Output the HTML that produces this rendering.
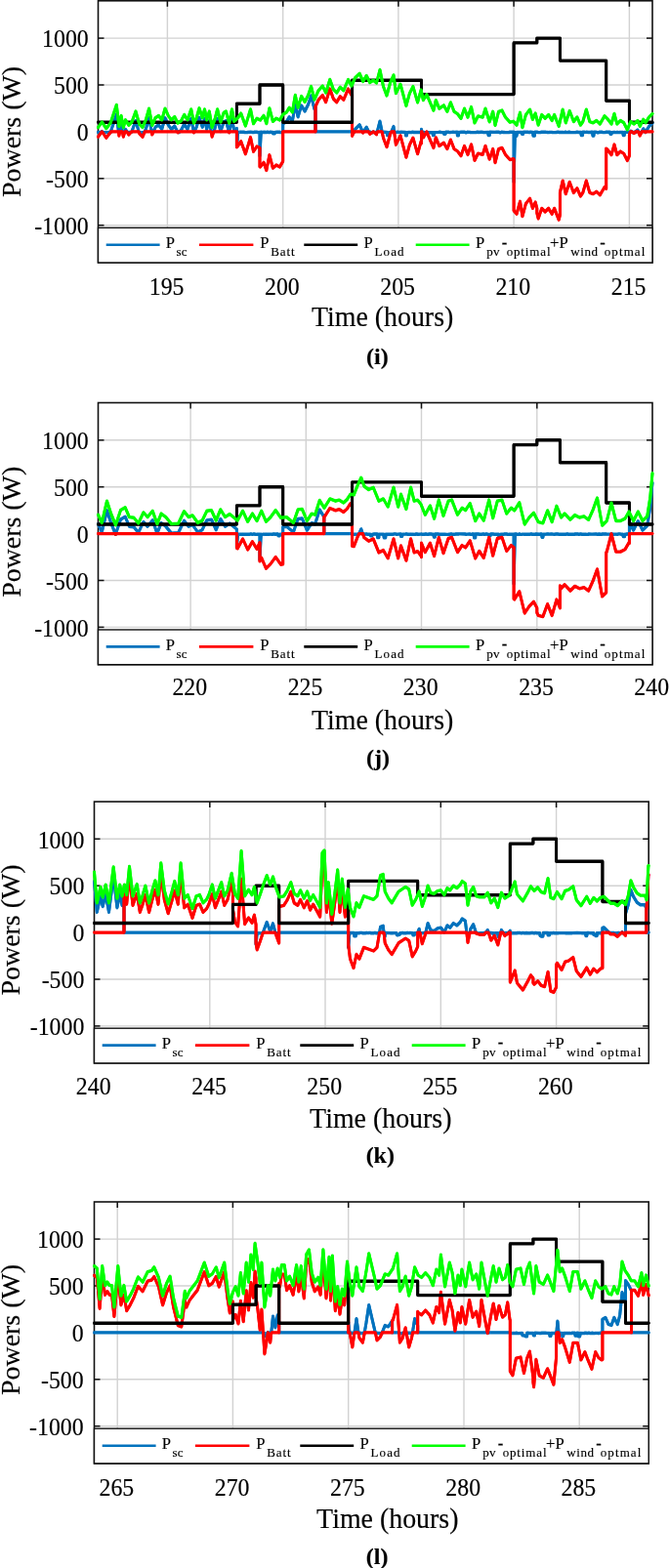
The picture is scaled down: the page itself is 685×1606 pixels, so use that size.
<!DOCTYPE html>
<html><head><meta charset="utf-8"><title>Powers vs Time</title>
<style>
html,body{margin:0;padding:0;background:#fff}
svg{display:block}
text{font-family:"Liberation Serif","Times New Roman",serif;fill:#000;stroke:#000;stroke-width:.15px}
.tk{font-size:23.8px}
.al{font-size:27.9px}
.cp{font-size:24px;font-weight:bold}
.lp{font-size:16.6px}
.ls{font-size:13px}
</style></head><body>
<svg width="685" height="1606" viewBox="0 0 685 1606">
<rect width="685" height="1606" fill="#fff"/>
<g>
<line x1="171.4" y1="0.8" x2="171.4" y2="269.0" stroke="#d2d2d2" stroke-width="1.4"/>
<line x1="289.7" y1="0.8" x2="289.7" y2="269.0" stroke="#d2d2d2" stroke-width="1.4"/>
<line x1="407.9" y1="0.8" x2="407.9" y2="269.0" stroke="#d2d2d2" stroke-width="1.4"/>
<line x1="526.1" y1="0.8" x2="526.1" y2="269.0" stroke="#d2d2d2" stroke-width="1.4"/>
<line x1="644.4" y1="0.8" x2="644.4" y2="269.0" stroke="#d2d2d2" stroke-width="1.4"/>
<line x1="100.5" y1="230.7" x2="668.0" y2="230.7" stroke="#d2d2d2" stroke-width="1.4"/>
<line x1="100.5" y1="182.8" x2="668.0" y2="182.8" stroke="#d2d2d2" stroke-width="1.4"/>
<line x1="100.5" y1="134.9" x2="668.0" y2="134.9" stroke="#d2d2d2" stroke-width="1.4"/>
<line x1="100.5" y1="87.0" x2="668.0" y2="87.0" stroke="#d2d2d2" stroke-width="1.4"/>
<line x1="100.5" y1="39.1" x2="668.0" y2="39.1" stroke="#d2d2d2" stroke-width="1.4"/>
<rect x="100.5" y="0.8" width="567.5" height="268.2" fill="none" stroke="#111" stroke-width="1.6"/>
<line x1="171.4" y1="0.8" x2="171.4" y2="6.8" stroke="#111" stroke-width="1.5"/>
<line x1="289.7" y1="0.8" x2="289.7" y2="6.8" stroke="#111" stroke-width="1.5"/>
<line x1="407.9" y1="0.8" x2="407.9" y2="6.8" stroke="#111" stroke-width="1.5"/>
<line x1="526.1" y1="0.8" x2="526.1" y2="6.8" stroke="#111" stroke-width="1.5"/>
<line x1="644.4" y1="0.8" x2="644.4" y2="6.8" stroke="#111" stroke-width="1.5"/>
<line x1="100.5" y1="230.7" x2="106.5" y2="230.7" stroke="#111" stroke-width="1.5"/>
<line x1="662.0" y1="230.7" x2="668.0" y2="230.7" stroke="#111" stroke-width="1.5"/>
<line x1="100.5" y1="182.8" x2="106.5" y2="182.8" stroke="#111" stroke-width="1.5"/>
<line x1="662.0" y1="182.8" x2="668.0" y2="182.8" stroke="#111" stroke-width="1.5"/>
<line x1="100.5" y1="134.9" x2="106.5" y2="134.9" stroke="#111" stroke-width="1.5"/>
<line x1="662.0" y1="134.9" x2="668.0" y2="134.9" stroke="#111" stroke-width="1.5"/>
<line x1="100.5" y1="87.0" x2="106.5" y2="87.0" stroke="#111" stroke-width="1.5"/>
<line x1="662.0" y1="87.0" x2="668.0" y2="87.0" stroke="#111" stroke-width="1.5"/>
<line x1="100.5" y1="39.1" x2="106.5" y2="39.1" stroke="#111" stroke-width="1.5"/>
<line x1="662.0" y1="39.1" x2="668.0" y2="39.1" stroke="#111" stroke-width="1.5"/>
<clipPath id="cp1"><rect x="98.0" y="0.8" width="572.5" height="268.2"/></clipPath>
<g clip-path="url(#cp1)" fill="none" stroke-width="2.9" stroke-linejoin="round" stroke-linecap="round">
<polyline id="c1blue" stroke="#0072bd" points="100.5,135.5 103.8,135.4 104.4,134.6 104.8,135.4 105.2,135.4 105.7,135.6 110.4,135.6 110.9,135.5 112.3,135.5 113.3,135.6 113.7,133.9 119.3,117.1 121.3,134.1 121.8,135.6 122.3,135.6 122.7,134.8 124.1,128.0 125.1,133.6 125.6,135.4 127.0,135.5 127.5,135.7 128.5,132.4 130.3,135.3 130.8,135.5 131.8,135.5 133.6,135.4 134.1,135.3 134.5,135.3 135.0,134.6 139.0,123.7 142.1,134.8 142.6,135.5 146.8,135.6 147.3,135.3 147.8,135.3 148.3,134.8 149.3,132.4 152.6,120.8 155.4,135.3 155.8,135.4 156.8,135.4 157.3,134.6 159.1,130.2 162.4,128.0 165.7,132.4 169.0,120.8 172.3,128.0 175.5,132.4 178.8,129.1 182.1,135.6 183.3,135.6 183.7,134.6 185.4,133.5 188.7,127.0 192.0,132.4 195.7,121.5 198.4,135.3 198.5,135.5 198.9,135.5 199.3,134.0 201.2,130.2 204.0,120.4 207.3,130.2 209.5,121.5 211.7,132.4 214.3,123.7 216.4,135.6 218.7,135.5 220.4,130.2 222.6,121.5 225.9,134.6 229.2,124.8 231.4,123.7 234.3,134.5 234.7,135.6 234.8,135.6 235.3,132.6 237.5,121.5 239.7,133.8 242.4,131.5 242.4,150.2 243.2,142.3 243.3,138.5 243.8,135.5 244.7,135.5 245.2,135.2 249.9,135.2 250.4,135.6 253.3,135.6 253.7,135.4 256.6,135.3 258.5,135.4 258.9,135.6 259.9,135.6 260.3,135.2 263.2,135.3 263.7,135.6 266.0,135.5 266.0,159.8 267.0,140.1 267.4,135.2 267.9,135.2 268.4,135.5 271.2,135.3 271.7,135.6 272.8,135.6 273.1,135.2 274.5,135.2 275.0,135.6 276.0,135.6 276.4,135.2 277.8,135.2 278.3,135.5 279.4,135.5 279.7,136.9 281.2,136.9 281.6,135.4 282.9,135.4 283.0,135.2 286.4,135.2 286.4,135.6 289.7,135.5 289.7,126.8 293.4,124.5 296.2,119.8 299.3,124.5 302.3,107.0 305.1,119.8 308.6,108.1 312.1,114.0 315.6,107.0 318.6,98.1 321.9,111.6 323.0,109.2 323.0,134.9 360.6,134.9 360.6,135.3 361.1,135.3 361.5,135.6 362.5,135.6 363.0,133.8 363.5,132.5 368.2,127.9 371.5,135.6 371.7,135.4 372.0,135.4 372.4,134.8 375.2,130.2 377.6,135.2 379.5,135.3 380.0,135.7 381.4,135.7 381.9,135.4 382.2,134.9 382.4,135.4 384.7,135.4 385.2,135.5 386.1,135.5 389.0,124.2 391.3,135.6 391.8,135.5 392.8,135.5 393.2,135.3 396.1,135.4 396.5,138.6 398.0,138.6 398.4,135.7 399.5,135.7 399.9,135.4 400.3,135.4 400.8,134.8 403.0,129.6 403.6,134.4 404.1,135.6 406.0,135.5 406.5,135.3 407.9,135.3 408.4,135.4 409.8,135.4 410.0,135.2 415.0,135.4 415.5,138.9 416.4,138.9 416.9,135.6 418.8,135.5 421.6,135.6 422.1,135.2 423.0,135.2 423.5,135.5 430.1,135.5 430.6,135.2 431.5,135.2 431.5,132.5 432.0,134.6 432.5,135.5 434.4,135.5 434.9,135.7 436.3,135.7 436.7,135.4 437.7,135.4 438.2,135.6 440.1,135.7 442.9,135.6 443.4,138.5 444.3,138.5 444.8,135.6 449.5,135.4 449.8,135.2 450.9,135.2 451.4,135.5 454.4,135.6 454.7,137.2 456.1,137.2 456.6,135.2 459.4,135.3 459.9,135.6 461.3,135.6 461.4,135.4 462.8,135.4 463.2,135.3 464.6,135.3 465.0,135.4 468.0,135.3 468.4,138.9 469.4,138.9 469.8,135.5 471.3,135.5 471.7,135.3 476.0,135.3 476.5,135.7 477.9,135.7 478.4,135.3 481.2,135.4 481.7,135.6 487.8,135.6 488.3,135.2 489.5,135.2 489.7,135.5 493.0,135.3 494.4,135.4 494.9,135.6 499.6,135.5 500.1,138.6 501.2,138.6 501.5,135.3 507.7,135.4 508.2,135.2 511.0,135.2 511.5,135.7 512.9,135.7 513.4,135.3 514.3,135.3 514.8,135.5 516.2,135.5 516.7,135.6 521.4,135.6 521.9,135.2 526.1,135.2 526.1,186.6 527.1,145.8 527.5,135.6 528.0,139.2 529.0,139.2 529.4,135.4 534.2,135.5 534.6,137.4 535.6,137.4 536.1,135.3 540.8,135.2 541.3,135.5 542.6,135.5 542.7,135.2 544.1,135.2 544.6,135.5 545.5,135.5 546.0,139.0 547.4,139.0 547.9,135.3 549.3,135.2 550.2,135.2 550.7,135.5 552.1,135.6 553.6,135.6 554.0,135.2 558.3,135.2 558.8,135.4 560.2,135.4 560.6,135.6 561.7,135.6 562.1,135.5 564.0,135.4 565.2,135.4 565.4,135.6 568.2,135.6 570.1,135.5 570.6,135.3 572.0,135.3 572.2,135.5 576.3,135.5 576.7,135.6 578.1,135.6 578.6,135.2 579.6,135.2 580.0,135.6 581.5,135.6 581.9,135.2 583.2,135.2 583.3,135.6 590.0,135.5 590.4,135.2 591.4,135.2 591.9,135.5 594.7,135.4 595.2,138.5 596.6,138.5 596.8,135.2 598.0,135.2 598.5,135.4 599.9,135.4 600.3,135.3 601.3,135.3 601.8,135.5 604.6,135.5 605.1,135.2 606.5,135.2 607.0,139.1 607.9,139.1 608.4,135.3 609.8,135.3 611.2,135.4 611.7,135.7 613.1,135.7 613.6,135.2 616.5,135.3 616.9,135.5 618.8,135.6 619.8,135.6 620.2,135.3 624.5,135.3 625.0,137.3 626.0,137.3 626.4,135.6 627.8,135.6 628.3,135.4 629.2,135.4 629.7,135.6 631.1,135.6 631.6,135.4 632.5,135.4 633.0,135.6 634.4,135.6 634.9,135.4 637.7,135.5 638.2,138.5 639.2,138.5 639.6,135.4 642.5,135.4 645.3,135.5 645.8,134.2 646.7,134.8 647.7,135.7 649.1,135.7 649.3,135.3 650.5,135.3 651.0,135.5 651.4,134.4 652.9,133.0 653.8,135.2 654.3,135.7 655.2,135.7 655.7,135.5 657.1,135.5 657.6,134.1 658.7,131.9 660.4,134.5 660.9,135.6 661.0,135.6 661.4,134.8 664.5,129.5 668.0,126.1" transform="translate(0,-0.25)"/>
<use href="#c1blue" transform="translate(0,0.5)"/>
<polyline id="c1red" stroke="#ff0000" points="100.5,140.1 104.3,134.9 104.8,135.2 108.8,141.2 113.1,135.7 113.3,135.3 113.7,134.9 121.3,134.9 121.9,139.0 122.7,134.9 125.1,134.9 125.6,136.2 126.3,140.1 127.5,136.0 127.9,134.9 129.8,134.9 130.3,135.5 131.8,137.9 134.5,135.1 135.0,134.9 142.1,134.9 142.7,136.8 146.0,140.1 148.3,134.9 154.9,134.9 155.4,135.4 155.8,137.9 156.8,135.7 157.3,134.9 181.4,134.9 181.8,135.2 182.1,135.7 183.3,134.9 183.7,134.9 197.9,134.9 198.4,135.0 198.5,135.7 198.9,135.0 199.3,134.9 215.9,134.9 216.4,135.6 217.1,140.1 218.7,135.3 219.2,134.9 234.3,134.9 234.7,135.7 234.8,135.0 235.3,134.9 242.4,134.9 242.4,150.7 243.2,150.0 246.7,144.8 251.4,157.7 256.5,140.6 259.5,155.3 263.0,150.0 266.0,151.5 266.0,170.7 266.5,171.0 270.0,166.3 272.8,174.5 275.9,158.8 279.4,172.2 282.9,169.1 286.4,171.0 289.7,165.2 289.7,134.9 323.0,134.9 323.0,109.2 326.1,102.3 330.3,97.6 333.6,104.6 337.8,91.1 341.3,101.1 344.8,104.6 348.3,98.8 351.8,102.3 356.5,91.1 360.0,97.6 360.6,96.2 360.6,139.3 362.5,134.9 371.0,134.9 371.7,136.1 372.4,134.9 377.2,134.9 377.6,135.1 378.7,137.2 382.2,134.9 385.5,137.7 386.1,135.3 386.6,134.9 390.9,134.9 391.3,135.5 392.5,141.2 396.0,150.6 399.5,137.7 400.8,134.9 403.6,134.9 405.4,148.2 410.0,138.9 415.9,161.1 419.4,148.3 422.9,141.2 427.6,157.6 431.1,144.8 431.5,146.8 431.5,134.9 432.0,134.9 433.4,140.9 436.9,135.1 443.9,151.4 446.3,140.9 449.8,149.5 454.4,146.3 457.9,152.6 461.4,143.2 465.0,152.6 468.5,154.9 472.0,159.6 475.5,149.5 479.0,158.4 482.5,147.9 486.0,164.3 489.5,157.2 494.2,158.4 497.0,149.5 501.2,163.1 504.7,152.6 507.0,166.6 510.5,152.6 514.0,151.4 517.5,158.4 522.2,163.6 525.7,162.6 526.1,163.1 526.1,215.8 529.0,219.1 532.5,206.3 534.9,221.5 538.4,208.6 542.6,203.3 545.4,213.3 548.2,207.0 549.8,213.4 549.8,218.2 551.2,223.9 554.7,213.4 558.2,216.9 561.7,213.4 565.2,219.3 567.6,213.4 572.2,225.1 573.4,220.1 573.4,197.1 576.2,185.1 579.3,198.6 583.2,186.5 587.4,197.4 590.9,192.8 594.4,200.9 596.8,197.4 600.3,185.1 603.8,197.4 607.3,198.6 610.8,196.3 614.3,199.8 619.0,191.6 620.7,193.3 620.7,152.1 622.5,153.9 626.0,158.6 629.0,148.1 631.8,158.6 635.3,155.1 638.8,157.4 642.3,164.4 644.4,159.7 644.4,137.7 645.3,135.5 645.8,134.9 646.7,134.9 647.2,135.1 649.3,136.5 651.0,134.9 653.3,134.9 653.8,135.4 655.2,138.9 657.1,135.0 657.6,134.9 660.4,134.9 661.0,135.4 661.4,134.9 668.0,134.9" transform="translate(0,-0.25)"/>
<use href="#c1red" transform="translate(0,0.5)"/>
<polyline id="c1load" stroke="#000000" points="100.5,125.3 242.4,125.3 242.4,106.2 266.0,106.2 266.0,87.0 289.7,87.0 289.7,125.3 360.6,125.3 360.6,82.2 431.5,82.2 431.5,96.6 526.1,96.6 526.1,43.9 549.8,43.9 549.8,39.1 573.4,39.1 573.4,62.1 620.7,62.1 620.7,103.3 644.4,103.3 644.4,125.3 668.0,125.3" transform="translate(0,-0.25)"/>
<use href="#c1load" transform="translate(0,0.5)"/>
<polyline id="c1green" stroke="#00ff00" points="100.5,130.5 104.4,125.0 108.8,131.6 113.1,126.1 119.3,107.5 121.9,129.4 124.1,118.5 126.3,130.5 128.5,122.8 131.8,128.3 135.0,125.0 139.0,114.1 142.7,127.2 146.0,130.5 149.3,122.8 152.6,111.2 155.8,128.3 159.1,120.7 162.4,118.5 165.7,122.8 169.0,111.2 172.3,118.5 175.5,122.8 178.8,119.6 182.1,126.1 185.4,123.9 188.7,117.4 192.0,122.8 195.7,111.9 198.5,126.1 201.2,120.7 204.0,110.8 207.3,120.7 209.5,111.9 211.7,122.8 214.3,114.1 217.1,130.5 220.4,120.7 222.6,111.9 225.9,125.0 229.2,115.2 231.4,114.1 234.7,126.1 237.5,111.9 239.7,124.2 243.2,121.2 246.7,116.1 251.4,128.9 256.5,111.9 259.5,126.6 263.0,121.2 266.5,123.1 270.0,118.4 272.8,126.6 275.9,110.9 279.4,124.3 282.9,121.2 286.4,123.1 289.7,117.2 293.4,114.9 296.2,110.2 299.3,114.9 302.3,97.4 305.1,110.2 308.6,98.6 312.1,104.4 315.6,97.4 318.6,88.5 321.9,102.1 326.1,92.7 330.3,88.0 333.6,95.0 337.8,81.5 341.3,91.5 344.8,95.0 348.3,89.2 351.8,92.7 356.5,81.5 360.0,88.0 363.5,79.9 368.2,75.2 371.7,83.4 375.2,77.5 378.7,84.5 382.2,82.2 385.5,85.0 389.0,71.5 392.5,88.6 396.0,97.9 399.5,85.0 403.0,76.9 405.4,95.6 410.0,86.2 415.9,108.4 419.4,95.6 422.9,88.6 427.6,104.9 431.1,92.1 433.4,102.6 436.9,96.7 443.9,113.1 446.3,102.6 449.8,111.2 454.4,107.9 457.9,114.3 461.4,104.9 465.0,114.3 468.5,116.6 472.0,121.3 475.5,111.2 479.0,120.1 482.5,109.6 486.0,125.9 489.5,118.9 494.2,120.1 497.0,111.2 501.2,124.8 504.7,114.3 507.0,128.3 510.5,114.3 514.0,113.1 517.5,120.1 522.2,125.2 525.7,124.3 529.0,128.1 532.5,115.3 534.9,130.5 538.4,117.6 542.6,112.2 545.4,122.3 548.2,116.0 551.2,128.1 554.7,117.6 558.2,121.1 561.7,117.6 565.2,123.5 567.6,117.6 572.2,129.3 576.2,112.2 579.3,125.8 583.2,113.6 587.4,124.6 590.9,120.0 594.4,128.1 596.8,124.6 600.3,112.2 603.8,124.6 607.3,125.8 610.8,123.5 614.3,127.0 619.0,118.8 622.5,122.3 626.0,127.0 629.0,116.5 631.8,127.0 635.3,123.5 638.8,125.8 642.3,132.8 645.8,124.6 649.3,127.0 652.9,123.5 655.2,129.3 658.7,122.3 661.0,125.8 664.5,120.0 668.0,116.5" transform="translate(0,-0.25)"/>
<use href="#c1green" transform="translate(0,0.5)"/>
</g>
<rect x="100.5" y="233.3" width="567.5" height="35.7" fill="#fff" stroke="#111" stroke-width="1.4"/>
<g stroke-width="2.6">
<line x1="108.7" y1="250.7" x2="163.6" y2="250.7" stroke="#0072bd"/>
<line x1="203.9" y1="250.7" x2="259.4" y2="250.7" stroke="#ff0000"/>
<line x1="311.3" y1="250.7" x2="366.2" y2="250.7" stroke="#000"/>
<line x1="425.7" y1="250.7" x2="480.6" y2="250.7" stroke="#00ff00"/>
</g>
<text class="lp" x="169.8" y="254.0">P</text>
<text class="ls" x="180.5" y="262.1" textLength="11.0" lengthAdjust="spacing">sc</text>
<text class="lp" x="266.2" y="254.0">P</text>
<text class="ls" x="277.3" y="262.1" textLength="24.3" lengthAdjust="spacing">Batt</text>
<text class="lp" x="372.4" y="254.0">P</text>
<text class="ls" x="383.5" y="262.1" textLength="30.0" lengthAdjust="spacing">Load</text>
<text class="lp" x="487.1" y="254.0">P</text>
<text class="ls" x="498.2" y="262.1" textLength="13.3" lengthAdjust="spacing">pv</text>
<text class="lp" font-weight="bold" x="513.7" y="253.5">-</text>
<text class="ls" x="518.7" y="262.1" textLength="44.8" lengthAdjust="spacing">optimal</text>
<text class="lp" x="563.1" y="254.0">+P</text>
<text class="ls" x="584.3" y="262.1" textLength="27.8" lengthAdjust="spacing">wind</text>
<text class="lp" font-weight="bold" x="614.3" y="253.5">-</text>
<text class="ls" x="618.8" y="262.1" textLength="41.5" lengthAdjust="spacing">optmal</text>
<text class="tk" text-anchor="middle" transform="translate(170.6,301.5) scale(1,1.08)">195</text>
<text class="tk" text-anchor="middle" transform="translate(288.9,301.5) scale(1,1.08)">200</text>
<text class="tk" text-anchor="middle" transform="translate(407.1,301.5) scale(1,1.08)">205</text>
<text class="tk" text-anchor="middle" transform="translate(525.3,301.5) scale(1,1.08)">210</text>
<text class="tk" text-anchor="middle" transform="translate(643.6,301.5) scale(1,1.08)">215</text>
<text class="tk" text-anchor="end" transform="translate(90.7,239.9) scale(1,1.08)">-1000</text>
<text class="tk" text-anchor="end" transform="translate(90.7,192.0) scale(1,1.08)">-500</text>
<text class="tk" text-anchor="end" transform="translate(90.7,144.1) scale(1,1.08)">0</text>
<text class="tk" text-anchor="end" transform="translate(90.7,96.2) scale(1,1.08)">500</text>
<text class="tk" text-anchor="end" transform="translate(90.7,48.3) scale(1,1.08)">1000</text>
<text class="al" text-anchor="middle" transform="translate(391.6,334.2) scale(1,1.035)">Time (hours)</text>
<text class="al" text-anchor="middle" transform="translate(21.0,134.9) rotate(-90)">Powers (W)</text>
<text class="cp" text-anchor="middle" x="386.3" y="372.8">(i)</text>
</g>
<g>
<line x1="195.1" y1="412.5" x2="195.1" y2="680.7" stroke="#d2d2d2" stroke-width="1.4"/>
<line x1="313.3" y1="412.5" x2="313.3" y2="680.7" stroke="#d2d2d2" stroke-width="1.4"/>
<line x1="431.5" y1="412.5" x2="431.5" y2="680.7" stroke="#d2d2d2" stroke-width="1.4"/>
<line x1="549.8" y1="412.5" x2="549.8" y2="680.7" stroke="#d2d2d2" stroke-width="1.4"/>
<line x1="100.5" y1="642.4" x2="668.0" y2="642.4" stroke="#d2d2d2" stroke-width="1.4"/>
<line x1="100.5" y1="594.5" x2="668.0" y2="594.5" stroke="#d2d2d2" stroke-width="1.4"/>
<line x1="100.5" y1="546.6" x2="668.0" y2="546.6" stroke="#d2d2d2" stroke-width="1.4"/>
<line x1="100.5" y1="498.7" x2="668.0" y2="498.7" stroke="#d2d2d2" stroke-width="1.4"/>
<line x1="100.5" y1="450.8" x2="668.0" y2="450.8" stroke="#d2d2d2" stroke-width="1.4"/>
<rect x="100.5" y="412.5" width="567.5" height="268.2" fill="none" stroke="#111" stroke-width="1.6"/>
<line x1="195.1" y1="412.5" x2="195.1" y2="418.5" stroke="#111" stroke-width="1.5"/>
<line x1="313.3" y1="412.5" x2="313.3" y2="418.5" stroke="#111" stroke-width="1.5"/>
<line x1="431.5" y1="412.5" x2="431.5" y2="418.5" stroke="#111" stroke-width="1.5"/>
<line x1="549.8" y1="412.5" x2="549.8" y2="418.5" stroke="#111" stroke-width="1.5"/>
<line x1="100.5" y1="642.4" x2="106.5" y2="642.4" stroke="#111" stroke-width="1.5"/>
<line x1="662.0" y1="642.4" x2="668.0" y2="642.4" stroke="#111" stroke-width="1.5"/>
<line x1="100.5" y1="594.5" x2="106.5" y2="594.5" stroke="#111" stroke-width="1.5"/>
<line x1="662.0" y1="594.5" x2="668.0" y2="594.5" stroke="#111" stroke-width="1.5"/>
<line x1="100.5" y1="546.6" x2="106.5" y2="546.6" stroke="#111" stroke-width="1.5"/>
<line x1="662.0" y1="546.6" x2="668.0" y2="546.6" stroke="#111" stroke-width="1.5"/>
<line x1="100.5" y1="498.7" x2="106.5" y2="498.7" stroke="#111" stroke-width="1.5"/>
<line x1="662.0" y1="498.7" x2="668.0" y2="498.7" stroke="#111" stroke-width="1.5"/>
<line x1="100.5" y1="450.8" x2="106.5" y2="450.8" stroke="#111" stroke-width="1.5"/>
<line x1="662.0" y1="450.8" x2="668.0" y2="450.8" stroke="#111" stroke-width="1.5"/>
<clipPath id="cp2"><rect x="98.0" y="412.5" width="572.5" height="268.2"/></clipPath>
<g clip-path="url(#cp2)" fill="none" stroke-width="2.9" stroke-linejoin="round" stroke-linecap="round">
<polyline id="c2blue" stroke="#0072bd" points="100.5,536.8 104.3,545.0 109.5,522.8 113.7,535.7 118.4,547.4 118.5,547.4 118.9,545.6 123.5,532.1 128.2,529.3 132.4,539.2 137.1,539.9 141.7,545.5 146.9,534.5 151.1,539.2 156.2,532.9 160.9,546.2 165.1,535.7 169.8,539.2 175.6,546.2 182.6,545.7 188.5,533.3 193.1,539.2 197.1,537.5 202.5,545.0 207.1,542.7 211.8,532.9 216.5,532.2 221.2,542.7 225.8,531.5 230.5,539.2 235.2,536.1 242.4,542.0 242.4,561.0 243.3,550.1 243.8,547.2 247.1,547.1 247.6,547.3 248.6,547.3 249.0,547.2 255.6,547.2 256.1,547.0 257.5,547.0 258.0,547.2 258.9,547.2 259.4,547.0 260.8,547.0 261.3,547.4 262.7,547.4 263.0,547.2 266.0,547.2 266.0,573.4 267.0,552.4 267.4,547.1 267.7,547.4 268.9,547.4 269.3,547.1 270.7,547.1 271.2,547.3 272.4,547.3 272.6,547.2 276.0,547.3 276.4,547.1 277.4,547.1 277.8,547.3 279.3,547.3 279.7,547.0 281.2,547.0 281.6,547.3 282.6,547.3 283.0,546.9 284.5,546.9 284.9,548.7 286.4,548.7 286.8,547.2 289.7,547.1 289.7,539.6 293.4,539.2 300.4,545.0 305.1,531.4 309.3,531.0 314.4,543.1 319.1,535.7 322.6,536.8 327.3,522.1 331.8,529.5 331.8,546.6 360.6,546.6 360.6,547.0 361.1,547.3 362.5,547.3 363.9,547.3 364.4,547.1 367.2,546.9 367.7,546.6 369.8,541.9 371.5,547.1 375.7,546.9 376.2,547.2 379.0,547.2 379.5,548.9 380.9,548.9 381.4,547.2 382.4,547.2 382.8,546.9 386.1,547.0 386.6,550.6 387.9,550.6 388.0,547.1 391.3,547.1 391.8,547.3 392.8,547.3 393.2,550.9 394.7,550.9 395.1,547.2 399.9,547.1 400.3,547.3 401.7,547.3 402.2,547.1 403.2,547.1 403.6,546.9 405.1,546.9 405.5,547.3 407.0,547.3 407.4,547.1 410.3,547.0 410.5,549.4 411.7,549.4 412.2,547.1 415.5,547.1 415.9,546.9 416.9,546.9 417.4,547.2 420.6,547.3 420.7,547.2 422.1,547.2 422.6,547.3 425.4,547.4 425.9,546.9 427.3,546.9 427.6,547.3 428.7,547.3 429.2,547.1 430.6,547.1 431.5,547.0 432.0,547.2 435.3,547.3 435.3,547.0 436.7,547.0 437.2,547.4 438.6,547.4 439.1,547.0 441.9,547.0 442.4,547.3 443.8,547.3 444.3,550.1 445.3,550.1 445.7,547.0 449.0,547.0 449.3,547.2 455.7,547.1 456.1,547.3 459.1,547.4 459.4,547.3 460.9,547.3 461.3,546.9 462.6,546.9 462.8,547.2 466.1,547.2 466.5,546.9 469.4,547.0 469.8,546.9 471.3,546.9 476.5,547.0 476.6,547.2 477.9,547.2 478.4,547.1 481.3,546.9 481.7,547.4 483.1,547.4 483.6,546.9 485.0,546.9 485.5,550.8 486.7,550.8 486.9,547.0 490.2,547.0 490.7,547.3 491.6,547.3 492.1,547.2 493.5,547.2 494.0,547.0 495.3,547.0 495.4,547.3 496.8,547.3 497.3,546.9 498.7,546.9 499.2,547.3 500.7,547.4 501.1,548.9 502.0,548.9 502.5,547.0 505.3,547.0 505.8,547.2 507.7,547.3 510.5,547.3 511.0,550.3 512.4,550.3 512.9,547.2 515.7,547.2 516.2,546.9 519.0,547.0 519.5,547.4 520.9,547.4 521.4,547.2 526.1,547.1 526.1,598.3 527.1,557.2 527.5,547.0 529.0,547.0 529.4,547.4 530.9,547.4 531.3,547.0 532.3,547.0 532.7,547.4 534.2,547.4 534.6,547.1 536.1,547.1 536.5,547.3 542.7,547.2 543.1,547.0 544.6,547.0 545.0,547.3 547.9,547.3 548.4,547.0 552.6,547.2 553.1,546.9 554.5,546.9 555.0,550.4 555.9,550.4 556.4,547.2 559.7,547.1 560.2,546.9 561.1,546.9 561.6,547.1 564.9,547.0 566.3,547.1 566.8,547.2 568.2,547.2 568.7,547.0 569.9,547.0 571.5,547.0 572.0,547.2 574.6,547.1 576.7,547.3 579.6,547.2 580.0,547.0 581.5,547.0 581.9,547.3 583.8,547.2 586.7,547.3 588.5,547.3 588.6,547.0 591.9,546.9 592.3,547.2 593.3,547.2 593.8,547.0 595.2,547.0 595.6,547.2 598.5,547.1 599.0,547.3 602.3,547.4 602.6,547.0 606.0,547.1 610.8,547.0 611.2,547.2 614.1,547.0 614.6,547.3 616.0,547.3 616.5,546.9 620.7,547.0 621.2,547.1 624.0,547.1 625.9,547.2 626.0,547.0 627.3,547.0 627.8,547.2 629.2,547.2 629.7,547.1 632.5,547.2 633.0,546.9 634.4,546.9 636.3,547.2 637.7,547.2 638.2,549.6 639.6,549.6 640.0,547.3 641.0,547.3 641.5,546.9 642.9,546.9 643.4,547.3 644.4,547.3 644.4,534.5 648.6,543.0 653.3,533.7 658.0,543.0 662.7,538.4 665.7,519.7 668.0,494.4" transform="translate(0,-0.25)"/>
<use href="#c2blue" transform="translate(0,0.5)"/>
<polyline id="c2red" stroke="#ff0000" points="100.5,546.6 118.0,546.6 118.4,547.3 118.5,547.0 118.9,546.6 242.4,546.6 242.4,561.2 243.2,561.8 248.6,552.0 253.7,563.0 258.4,554.8 263.0,562.3 266.0,555.7 266.0,574.9 267.7,571.2 272.4,582.2 277.1,577.5 282.2,570.5 287.6,578.2 289.7,577.9 289.7,546.6 331.8,546.6 331.8,529.5 332.0,529.8 337.8,520.5 343.6,522.8 347.1,521.6 351.8,524.4 355.3,521.2 358.8,515.8 360.6,516.1 360.6,559.3 362.3,559.6 365.8,550.7 367.7,546.6 371.0,546.6 371.5,546.7 372.9,550.7 377.5,554.2 382.2,551.9 387.9,565.9 392.5,563.6 397.2,571.8 403.0,551.9 407.7,571.8 410.5,558.9 415.9,574.1 420.6,551.9 424.1,565.9 427.6,564.7 431.1,569.4 431.5,570.6 431.5,556.2 435.3,565.6 440.4,556.2 444.6,569.5 449.3,550.4 454.0,566.7 459.1,551.5 462.6,550.4 468.5,565.6 473.1,558.6 476.6,560.9 481.3,553.9 486.7,571.9 490.7,564.4 495.3,571.4 500.7,550.4 504.7,569.1 509.3,551.5 514.0,550.4 518.7,564.4 523.4,558.6 526.1,560.8 526.1,613.5 526.7,614.0 531.8,605.8 537.2,628.0 541.9,621.0 546.5,616.3 549.8,622.7 549.8,627.5 551.2,630.4 555.9,631.6 560.6,618.7 565.2,630.4 569.9,614.1 573.4,622.8 573.4,599.9 574.6,602.8 578.1,598.8 583.9,605.1 588.6,600.4 593.3,602.8 597.9,601.6 602.6,605.1 607.3,594.6 611.5,582.9 616.6,610.9 620.7,606.9 620.7,565.7 621.3,565.1 626.0,546.8 630.7,565.1 635.3,565.1 640.0,562.7 644.0,555.7 644.4,556.5 644.4,546.6 668.0,546.6" transform="translate(0,-0.25)"/>
<use href="#c2red" transform="translate(0,0.5)"/>
<polyline id="c2load" stroke="#000000" points="100.5,537.0 242.4,537.0 242.4,517.9 266.0,517.9 266.0,498.7 289.7,498.7 289.7,537.0 360.6,537.0 360.6,493.9 431.5,493.9 431.5,508.3 526.1,508.3 526.1,455.6 549.8,455.6 549.8,450.8 573.4,450.8 573.4,473.8 620.7,473.8 620.7,515.0 644.4,515.0 644.4,537.0 668.0,537.0" transform="translate(0,-0.25)"/>
<use href="#c2load" transform="translate(0,0.5)"/>
<polyline id="c2green" stroke="#00ff00" points="100.5,527.2 104.3,535.4 109.5,513.2 113.7,526.1 118.4,537.8 123.5,522.6 128.2,519.8 132.4,529.6 137.1,530.3 141.7,535.9 146.9,524.9 151.1,529.6 156.2,523.3 160.9,536.6 165.1,526.1 169.8,529.6 175.6,536.6 182.6,536.1 188.5,523.7 193.1,529.6 197.1,527.9 202.5,535.4 207.1,533.1 211.8,523.3 216.5,522.6 221.2,533.1 225.8,521.9 230.5,529.6 235.2,526.5 243.2,533.1 248.6,523.3 253.7,534.3 258.4,526.1 263.0,533.6 267.7,523.3 272.4,534.3 277.1,529.6 282.2,522.6 287.6,530.3 293.4,529.6 300.4,535.4 305.1,521.9 309.3,521.4 314.4,533.5 319.1,526.1 322.6,527.2 327.3,512.5 332.0,520.2 337.8,510.9 343.6,513.2 347.1,512.1 351.8,514.9 355.3,511.6 358.8,506.2 362.3,506.9 365.8,498.0 369.8,489.2 372.9,498.0 377.5,501.5 382.2,499.2 387.9,513.2 392.5,510.9 397.2,519.1 403.0,499.2 407.7,519.1 410.5,506.2 415.9,521.4 420.6,499.2 424.1,513.2 427.6,512.1 431.1,516.7 435.3,527.2 440.4,517.9 444.6,531.2 449.3,512.1 454.0,528.4 459.1,513.2 462.6,512.1 468.5,527.2 473.1,520.2 476.6,522.6 481.3,515.6 486.7,533.5 490.7,526.1 495.3,533.1 500.7,512.1 504.7,530.7 509.3,513.2 514.0,512.1 518.7,526.1 523.4,520.2 526.7,522.9 531.8,514.8 537.2,537.0 541.9,530.0 546.5,525.3 551.2,534.6 555.9,535.8 560.6,522.9 565.2,534.6 569.9,518.3 574.6,530.0 578.1,526.0 583.9,532.3 588.6,527.6 593.3,530.0 597.9,528.8 602.6,532.3 607.3,521.8 611.5,510.1 616.6,538.1 621.3,533.5 626.0,515.2 630.7,533.5 635.3,533.5 640.0,531.1 644.0,524.1 648.6,533.5 653.3,524.1 658.0,533.5 662.7,528.8 665.7,510.1 668.0,484.8" transform="translate(0,-0.25)"/>
<use href="#c2green" transform="translate(0,0.5)"/>
</g>
<rect x="100.5" y="645.0" width="567.5" height="35.7" fill="#fff" stroke="#111" stroke-width="1.4"/>
<g stroke-width="2.6">
<line x1="108.7" y1="662.4" x2="163.6" y2="662.4" stroke="#0072bd"/>
<line x1="203.9" y1="662.4" x2="259.4" y2="662.4" stroke="#ff0000"/>
<line x1="311.3" y1="662.4" x2="366.2" y2="662.4" stroke="#000"/>
<line x1="425.7" y1="662.4" x2="480.6" y2="662.4" stroke="#00ff00"/>
</g>
<text class="lp" x="169.8" y="665.7">P</text>
<text class="ls" x="180.5" y="673.8" textLength="11.0" lengthAdjust="spacing">sc</text>
<text class="lp" x="266.2" y="665.7">P</text>
<text class="ls" x="277.3" y="673.8" textLength="24.3" lengthAdjust="spacing">Batt</text>
<text class="lp" x="372.4" y="665.7">P</text>
<text class="ls" x="383.5" y="673.8" textLength="30.0" lengthAdjust="spacing">Load</text>
<text class="lp" x="487.1" y="665.7">P</text>
<text class="ls" x="498.2" y="673.8" textLength="13.3" lengthAdjust="spacing">pv</text>
<text class="lp" font-weight="bold" x="513.7" y="665.2">-</text>
<text class="ls" x="518.7" y="673.8" textLength="44.8" lengthAdjust="spacing">optimal</text>
<text class="lp" x="563.1" y="665.7">+P</text>
<text class="ls" x="584.3" y="673.8" textLength="27.8" lengthAdjust="spacing">wind</text>
<text class="lp" font-weight="bold" x="614.3" y="665.2">-</text>
<text class="ls" x="618.8" y="673.8" textLength="41.5" lengthAdjust="spacing">optmal</text>
<text class="tk" text-anchor="middle" transform="translate(194.3,712.3) scale(1,1.08)">220</text>
<text class="tk" text-anchor="middle" transform="translate(312.5,712.3) scale(1,1.08)">225</text>
<text class="tk" text-anchor="middle" transform="translate(430.7,712.3) scale(1,1.08)">230</text>
<text class="tk" text-anchor="middle" transform="translate(549.0,712.3) scale(1,1.08)">235</text>
<text class="tk" text-anchor="middle" transform="translate(667.2,712.3) scale(1,1.08)">240</text>
<text class="tk" text-anchor="end" transform="translate(90.7,651.6) scale(1,1.08)">-1000</text>
<text class="tk" text-anchor="end" transform="translate(90.7,603.7) scale(1,1.08)">-500</text>
<text class="tk" text-anchor="end" transform="translate(90.7,555.8) scale(1,1.08)">0</text>
<text class="tk" text-anchor="end" transform="translate(90.7,507.9) scale(1,1.08)">500</text>
<text class="tk" text-anchor="end" transform="translate(90.7,460.0) scale(1,1.08)">1000</text>
<text class="al" text-anchor="middle" transform="translate(391.6,747.1) scale(1,1.035)">Time (hours)</text>
<text class="al" text-anchor="middle" transform="translate(21.4,544.8) rotate(-90)">Powers (W)</text>
<text class="cp" text-anchor="middle" x="387.0" y="783.5">(j)</text>
</g>
<g>
<line x1="214.8" y1="821.1" x2="214.8" y2="1088.9" stroke="#d2d2d2" stroke-width="1.4"/>
<line x1="333.0" y1="821.1" x2="333.0" y2="1088.9" stroke="#d2d2d2" stroke-width="1.4"/>
<line x1="451.3" y1="821.1" x2="451.3" y2="1088.9" stroke="#d2d2d2" stroke-width="1.4"/>
<line x1="569.6" y1="821.1" x2="569.6" y2="1088.9" stroke="#d2d2d2" stroke-width="1.4"/>
<line x1="96.5" y1="1050.9" x2="664.2" y2="1050.9" stroke="#d2d2d2" stroke-width="1.4"/>
<line x1="96.5" y1="1003.0" x2="664.2" y2="1003.0" stroke="#d2d2d2" stroke-width="1.4"/>
<line x1="96.5" y1="955.1" x2="664.2" y2="955.1" stroke="#d2d2d2" stroke-width="1.4"/>
<line x1="96.5" y1="907.2" x2="664.2" y2="907.2" stroke="#d2d2d2" stroke-width="1.4"/>
<line x1="96.5" y1="859.3" x2="664.2" y2="859.3" stroke="#d2d2d2" stroke-width="1.4"/>
<rect x="96.5" y="821.1" width="567.7" height="267.8" fill="none" stroke="#111" stroke-width="1.6"/>
<line x1="214.8" y1="821.1" x2="214.8" y2="827.1" stroke="#111" stroke-width="1.5"/>
<line x1="333.0" y1="821.1" x2="333.0" y2="827.1" stroke="#111" stroke-width="1.5"/>
<line x1="451.3" y1="821.1" x2="451.3" y2="827.1" stroke="#111" stroke-width="1.5"/>
<line x1="569.6" y1="821.1" x2="569.6" y2="827.1" stroke="#111" stroke-width="1.5"/>
<line x1="96.5" y1="1050.9" x2="102.5" y2="1050.9" stroke="#111" stroke-width="1.5"/>
<line x1="658.2" y1="1050.9" x2="664.2" y2="1050.9" stroke="#111" stroke-width="1.5"/>
<line x1="96.5" y1="1003.0" x2="102.5" y2="1003.0" stroke="#111" stroke-width="1.5"/>
<line x1="658.2" y1="1003.0" x2="664.2" y2="1003.0" stroke="#111" stroke-width="1.5"/>
<line x1="96.5" y1="955.1" x2="102.5" y2="955.1" stroke="#111" stroke-width="1.5"/>
<line x1="658.2" y1="955.1" x2="664.2" y2="955.1" stroke="#111" stroke-width="1.5"/>
<line x1="96.5" y1="907.2" x2="102.5" y2="907.2" stroke="#111" stroke-width="1.5"/>
<line x1="658.2" y1="907.2" x2="664.2" y2="907.2" stroke="#111" stroke-width="1.5"/>
<line x1="96.5" y1="859.3" x2="102.5" y2="859.3" stroke="#111" stroke-width="1.5"/>
<line x1="658.2" y1="859.3" x2="664.2" y2="859.3" stroke="#111" stroke-width="1.5"/>
<clipPath id="cp3"><rect x="94.0" y="821.1" width="572.7" height="267.8"/></clipPath>
<g clip-path="url(#cp3)" fill="none" stroke-width="2.9" stroke-linejoin="round" stroke-linecap="round">
<polyline id="c3blue" stroke="#0072bd" points="96.5,902.8 99.3,934.3 102.9,918.0 105.2,928.5 108.2,915.7 111.5,934.3 116.2,897.4 119.9,929.7 122.7,915.7 125.0,927.3 127.0,917.5 127.0,955.1 262.1,955.1 262.1,967.6 263.2,956.4 263.5,955.6 269.2,955.9 269.7,954.0 273.2,944.6 276.7,954.0 279.5,945.8 281.9,955.1 282.4,955.5 285.7,955.7 285.7,955.1 356.7,955.1 356.7,970.4 357.6,958.6 358.1,955.5 362.4,955.5 362.8,958.9 364.3,958.9 364.7,955.8 367.6,955.8 367.9,955.4 369.5,955.4 370.9,955.4 371.4,955.8 374.2,955.7 374.7,955.4 376.0,955.4 376.1,955.6 377.5,955.6 378.0,955.4 379.4,955.4 379.9,955.7 382.7,955.8 383.2,955.4 384.6,955.4 385.1,955.8 387.9,955.7 388.4,955.4 388.9,953.4 389.5,949.4 392.3,948.3 393.1,955.9 393.6,959.1 394.2,959.1 394.5,955.5 399.3,955.6 399.7,955.8 402.6,955.7 403.1,955.6 405.9,955.8 406.4,957.7 407.8,957.7 408.2,957.2 409.2,957.2 409.7,955.8 411.1,955.8 411.6,955.5 412.5,955.5 413.0,955.8 414.9,955.8 415.8,955.8 416.3,955.5 417.7,955.5 418.2,955.6 419.1,955.6 419.6,955.5 422.5,955.6 422.9,957.7 424.3,957.7 424.8,955.6 427.7,955.4 427.7,955.7 428.1,954.0 429.2,951.4 430.0,955.7 433.8,955.6 434.3,955.4 435.2,955.4 435.7,955.9 438.1,945.6 440.9,952.6 444.4,953.7 447.9,950.9 451.4,950.2 454.9,954.9 458.0,947.9 460.8,950.2 464.3,945.6 467.8,947.9 471.3,944.4 473.2,940.9 476.4,943.2 477.8,955.0 478.3,955.8 478.8,955.7 479.7,955.7 480.2,955.5 480.6,955.5 481.1,954.9 481.8,951.4 484.6,946.7 487.3,954.9 487.7,955.5 488.2,955.8 491.2,955.9 491.5,955.7 492.9,955.7 493.4,955.8 494.8,955.8 495.3,955.5 496.3,955.5 496.7,955.7 497.2,955.7 497.7,954.8 499.3,952.6 500.5,955.8 501.5,955.8 501.9,955.4 502.9,955.4 503.4,955.6 504.8,955.6 505.2,957.1 505.7,957.1 506.2,955.9 506.7,955.8 509.8,955.8 510.0,959.2 511.4,959.2 511.9,955.5 512.3,955.5 512.8,954.9 513.4,952.6 515.2,955.6 519.9,955.4 520.4,955.8 520.9,955.8 521.3,954.7 522.3,953.4 522.3,955.6 522.7,955.7 527.5,955.6 528.0,955.8 529.4,955.8 529.5,955.5 532.7,955.5 533.2,955.7 534.6,955.7 535.0,955.5 536.0,955.5 536.5,955.7 539.8,955.5 540.0,955.8 541.2,955.8 543.1,955.7 543.5,955.5 545.9,955.5 546.4,955.8 547.3,955.8 547.8,955.4 549.2,955.4 549.7,955.7 550.7,955.7 551.1,955.6 552.6,955.6 553.0,958.4 554.1,958.4 554.4,959.1 555.9,959.1 556.3,955.4 561.1,955.5 561.1,957.9 562.5,957.9 563.0,955.7 565.8,955.7 566.3,955.4 567.2,955.4 567.7,955.7 571.9,955.7 572.4,955.6 578.6,955.6 579.0,955.8 580.9,955.8 582.1,955.8 582.4,955.7 585.7,955.7 586.1,955.6 590.9,955.5 595.6,955.6 596.1,955.8 599.4,955.6 599.9,958.6 600.8,958.6 601.3,955.5 602.7,955.5 603.2,955.6 604.3,955.6 604.6,955.7 607.8,955.7 607.9,957.3 609.3,957.3 609.8,958.5 611.2,958.5 611.3,955.7 614.5,955.8 614.8,955.4 615.9,955.4 616.4,955.8 616.9,955.8 616.9,950.4 618.3,949.9 624.0,955.5 628.8,955.4 629.2,955.9 630.6,955.9 631.1,955.6 632.3,955.6 632.5,955.4 633.9,955.4 634.4,955.7 635.8,955.7 636.3,955.4 637.0,954.6 637.7,955.7 640.5,955.6 640.5,935.9 643.3,926.7 645.9,911.5 648.7,918.5 652.2,924.3 655.7,926.7 660.4,926.7 661.8,930.9 661.8,955.1 664.2,955.1" transform="translate(0,-0.25)"/>
<use href="#c3blue" transform="translate(0,0.5)"/>
<polyline id="c3red" stroke="#ff0000" points="96.5,955.1 127.0,955.1 127.0,917.5 127.4,915.7 129.7,926.2 132.5,897.0 136.0,927.3 140.2,915.2 143.3,934.3 146.1,926.2 148.9,916.8 152.6,934.3 155.9,921.5 158.9,911.5 162.0,926.2 164.8,893.5 168.3,921.5 172.2,935.5 176.0,922.7 178.8,912.2 182.3,926.2 185.1,893.5 188.6,929.7 192.3,926.2 197.0,940.2 201.0,927.3 204.5,926.2 208.0,934.3 211.5,930.8 213.8,926.2 217.3,915.7 220.4,929.7 223.6,921.5 226.7,913.3 229.7,927.3 233.0,921.5 237.2,904.0 238.4,911.7 238.4,930.9 240.5,944.2 243.6,948.8 247.1,900.2 250.6,946.5 254.5,940.0 258.0,945.3 260.4,937.2 262.1,947.1 262.1,966.3 263.2,972.7 266.2,964.5 269.2,955.6 269.6,955.1 281.9,955.1 282.6,957.5 285.7,965.9 285.7,927.6 286.1,928.5 290.7,927.3 294.3,921.5 297.8,913.3 301.3,925.0 304.8,927.3 307.6,921.5 311.3,929.7 314.6,922.7 317.6,932.0 320.7,926.2 324.6,933.2 327.7,939.0 330.0,883.0 332.1,880.6 334.4,934.3 336.3,913.3 339.8,946.0 342.6,926.2 345.7,900.5 348.0,934.3 350.3,909.8 353.4,939.0 356.2,920.3 356.7,924.5 356.7,967.7 358.5,982.1 362.0,991.5 365.0,977.5 367.9,982.1 372.5,970.4 382.5,974.0 386.0,970.4 388.4,956.2 388.9,955.1 392.7,955.1 393.1,955.7 394.2,965.8 397.7,972.8 401.2,977.5 408.2,965.8 415.2,961.1 418.7,963.4 422.2,979.8 425.7,974.0 427.7,969.5 427.7,955.1 429.6,955.1 430.0,955.3 432.3,966.6 435.1,958.4 435.7,955.8 436.2,955.1 477.8,955.1 479.0,965.4 481.1,955.1 487.3,955.1 487.7,956.1 491.2,957.2 491.5,957.2 495.8,957.2 497.2,955.4 497.7,955.1 500.0,955.1 500.5,956.1 502.8,963.1 506.3,958.4 509.8,967.8 512.8,955.1 514.7,955.1 515.2,955.6 516.9,958.4 520.4,956.1 520.9,955.4 521.3,955.1 522.3,955.1 522.3,1006.1 522.5,1005.8 527.2,994.1 529.5,1006.9 535.4,1014.0 540.0,1005.8 543.5,998.8 545.9,1001.9 545.9,1006.7 547.0,1008.2 550.6,1004.7 554.1,1009.4 557.6,1010.6 561.1,995.4 563.9,1015.2 566.9,1016.4 569.6,1011.1 569.6,988.1 570.4,986.4 575.1,993.4 578.6,985.2 582.1,984.1 586.8,980.6 590.3,994.6 594.9,1000.4 600.8,991.1 604.3,998.1 607.8,992.2 611.3,995.8 614.8,992.2 616.9,991.6 616.9,955.1 623.5,955.1 625.3,956.9 628.8,956.9 632.3,959.2 636.3,955.3 636.8,955.1 637.2,955.1 637.7,955.3 640.5,958.1 640.5,955.1 661.8,955.1 661.8,930.9 662.0,931.4 663.9,896.3 664.2,896.3" transform="translate(0,-0.25)"/>
<use href="#c3red" transform="translate(0,0.5)"/>
<polyline id="c3load" stroke="#000000" points="96.5,945.5 238.4,945.5 238.4,926.4 262.1,926.4 262.1,907.2 285.7,907.2 285.7,945.5 356.7,945.5 356.7,902.4 427.7,902.4 427.7,916.8 522.3,916.8 522.3,864.1 545.9,864.1 545.9,859.3 569.6,859.3 569.6,882.3 616.9,882.3 616.9,923.5 640.5,923.5 640.5,945.5 664.2,945.5" transform="translate(0,-0.25)"/>
<use href="#c3load" transform="translate(0,0.5)"/>
<polyline id="c3green" stroke="#00ff00" points="96.5,893.2 99.3,924.8 102.9,908.4 105.2,918.9 108.2,906.1 111.5,924.8 116.2,887.9 119.9,920.1 122.7,906.1 125.0,917.8 127.4,906.1 129.7,916.6 132.5,887.4 136.0,917.8 140.2,905.6 143.3,924.8 146.1,916.6 148.9,907.2 152.6,924.8 155.9,911.9 158.9,901.9 162.0,916.6 164.8,883.9 168.3,911.9 172.2,925.9 176.0,913.1 178.8,902.6 182.3,916.6 185.1,883.9 188.6,920.1 192.3,916.6 197.0,930.6 201.0,917.8 204.5,916.6 208.0,924.8 211.5,921.3 213.8,916.6 217.3,906.1 220.4,920.1 223.6,911.9 226.7,903.7 229.7,917.8 233.0,911.9 237.2,894.4 240.5,915.4 243.6,920.1 247.1,871.5 250.6,917.7 254.5,911.2 258.0,916.6 260.4,908.4 263.2,924.8 266.2,916.6 269.7,906.1 273.2,896.7 276.7,906.1 279.5,897.9 282.6,909.6 286.1,918.9 290.7,917.8 294.3,911.9 297.8,903.7 301.3,915.4 304.8,917.8 307.6,911.9 311.3,920.1 314.6,913.1 317.6,922.4 320.7,916.6 324.6,923.6 327.7,929.4 330.0,873.4 332.1,871.0 334.4,924.8 336.3,903.7 339.8,936.4 342.6,916.6 345.7,890.9 348.0,924.8 350.3,900.2 353.4,929.4 356.2,910.7 358.5,929.4 362.0,938.8 365.0,924.8 367.9,929.4 372.5,917.8 382.5,921.3 386.0,917.8 389.5,896.7 392.3,895.6 394.2,913.1 397.7,920.1 401.2,924.8 408.2,913.1 415.2,908.4 418.7,910.7 422.2,927.1 425.7,921.3 429.2,913.1 432.3,928.3 435.1,920.1 438.1,907.2 440.9,914.3 444.4,915.4 447.9,912.6 451.4,911.9 454.9,916.6 458.0,909.6 460.8,911.9 464.3,907.2 467.8,909.6 471.3,906.1 473.2,902.6 476.4,904.9 479.0,927.1 481.8,913.1 484.6,908.4 487.7,917.8 491.2,918.9 495.8,918.9 499.3,914.3 502.8,924.8 506.3,920.1 509.8,929.4 513.4,914.3 516.9,920.1 520.4,917.8 522.5,914.8 527.2,903.1 529.5,915.9 535.4,922.9 540.0,914.8 543.5,907.8 547.0,912.4 550.6,908.9 554.1,913.6 557.6,914.8 561.1,899.6 563.9,919.5 566.9,920.6 570.4,913.6 575.1,920.6 578.6,912.4 582.1,911.3 586.8,907.8 590.3,921.8 594.9,927.6 600.8,918.3 604.3,925.3 607.8,919.4 611.3,922.9 614.8,919.4 618.3,918.3 625.3,925.3 628.8,925.3 632.3,927.6 637.0,922.9 640.5,926.4 643.3,917.1 645.9,901.9 648.7,908.9 652.2,914.8 655.7,917.1 660.4,917.1 662.0,921.8 663.9,886.7 664.2,886.7" transform="translate(0,-0.25)"/>
<use href="#c3green" transform="translate(0,0.5)"/>
</g>
<rect x="96.5" y="1053.2" width="567.7" height="35.7" fill="#fff" stroke="#111" stroke-width="1.4"/>
<g stroke-width="2.6">
<line x1="104.7" y1="1070.6" x2="159.6" y2="1070.6" stroke="#0072bd"/>
<line x1="199.9" y1="1070.6" x2="255.4" y2="1070.6" stroke="#ff0000"/>
<line x1="307.3" y1="1070.6" x2="362.2" y2="1070.6" stroke="#000"/>
<line x1="421.7" y1="1070.6" x2="476.6" y2="1070.6" stroke="#00ff00"/>
</g>
<text class="lp" x="165.8" y="1073.9">P</text>
<text class="ls" x="176.5" y="1082.0" textLength="11.0" lengthAdjust="spacing">sc</text>
<text class="lp" x="262.2" y="1073.9">P</text>
<text class="ls" x="273.3" y="1082.0" textLength="24.3" lengthAdjust="spacing">Batt</text>
<text class="lp" x="368.4" y="1073.9">P</text>
<text class="ls" x="379.5" y="1082.0" textLength="30.0" lengthAdjust="spacing">Load</text>
<text class="lp" x="483.1" y="1073.9">P</text>
<text class="ls" x="494.2" y="1082.0" textLength="13.3" lengthAdjust="spacing">pv</text>
<text class="lp" font-weight="bold" x="509.7" y="1073.4">-</text>
<text class="ls" x="514.7" y="1082.0" textLength="44.8" lengthAdjust="spacing">optimal</text>
<text class="lp" x="559.1" y="1073.9">+P</text>
<text class="ls" x="580.3" y="1082.0" textLength="27.8" lengthAdjust="spacing">wind</text>
<text class="lp" font-weight="bold" x="610.3" y="1073.4">-</text>
<text class="ls" x="614.8" y="1082.0" textLength="41.5" lengthAdjust="spacing">optmal</text>
<text class="tk" text-anchor="middle" transform="translate(95.7,1121.1) scale(1,1.08)">240</text>
<text class="tk" text-anchor="middle" transform="translate(214.0,1121.1) scale(1,1.08)">245</text>
<text class="tk" text-anchor="middle" transform="translate(332.2,1121.1) scale(1,1.08)">250</text>
<text class="tk" text-anchor="middle" transform="translate(450.5,1121.1) scale(1,1.08)">255</text>
<text class="tk" text-anchor="middle" transform="translate(568.8,1121.1) scale(1,1.08)">260</text>
<text class="tk" text-anchor="end" transform="translate(86.3,1060.1) scale(1,1.08)">-1000</text>
<text class="tk" text-anchor="end" transform="translate(86.3,1012.2) scale(1,1.08)">-500</text>
<text class="tk" text-anchor="end" transform="translate(86.3,964.3) scale(1,1.08)">0</text>
<text class="tk" text-anchor="end" transform="translate(86.3,916.4) scale(1,1.08)">500</text>
<text class="tk" text-anchor="end" transform="translate(86.3,868.5) scale(1,1.08)">1000</text>
<text class="al" text-anchor="middle" transform="translate(389.8,1154.6) scale(1,1.035)">Time (hours)</text>
<text class="al" text-anchor="middle" transform="translate(20.0,952.4) rotate(-90)">Powers (W)</text>
<text class="cp" text-anchor="middle" x="389.3" y="1191.1">(k)</text>
</g>
<g>
<line x1="120.2" y1="1231.0" x2="120.2" y2="1499.0" stroke="#d2d2d2" stroke-width="1.4"/>
<line x1="238.4" y1="1231.0" x2="238.4" y2="1499.0" stroke="#d2d2d2" stroke-width="1.4"/>
<line x1="356.7" y1="1231.0" x2="356.7" y2="1499.0" stroke="#d2d2d2" stroke-width="1.4"/>
<line x1="475.0" y1="1231.0" x2="475.0" y2="1499.0" stroke="#d2d2d2" stroke-width="1.4"/>
<line x1="593.2" y1="1231.0" x2="593.2" y2="1499.0" stroke="#d2d2d2" stroke-width="1.4"/>
<line x1="96.5" y1="1460.7" x2="664.2" y2="1460.7" stroke="#d2d2d2" stroke-width="1.4"/>
<line x1="96.5" y1="1412.8" x2="664.2" y2="1412.8" stroke="#d2d2d2" stroke-width="1.4"/>
<line x1="96.5" y1="1364.9" x2="664.2" y2="1364.9" stroke="#d2d2d2" stroke-width="1.4"/>
<line x1="96.5" y1="1317.0" x2="664.2" y2="1317.0" stroke="#d2d2d2" stroke-width="1.4"/>
<line x1="96.5" y1="1269.1" x2="664.2" y2="1269.1" stroke="#d2d2d2" stroke-width="1.4"/>
<rect x="96.5" y="1231.0" width="567.7" height="268.0" fill="none" stroke="#111" stroke-width="1.6"/>
<line x1="120.2" y1="1231.0" x2="120.2" y2="1237.0" stroke="#111" stroke-width="1.5"/>
<line x1="238.4" y1="1231.0" x2="238.4" y2="1237.0" stroke="#111" stroke-width="1.5"/>
<line x1="356.7" y1="1231.0" x2="356.7" y2="1237.0" stroke="#111" stroke-width="1.5"/>
<line x1="475.0" y1="1231.0" x2="475.0" y2="1237.0" stroke="#111" stroke-width="1.5"/>
<line x1="593.2" y1="1231.0" x2="593.2" y2="1237.0" stroke="#111" stroke-width="1.5"/>
<line x1="96.5" y1="1460.7" x2="102.5" y2="1460.7" stroke="#111" stroke-width="1.5"/>
<line x1="658.2" y1="1460.7" x2="664.2" y2="1460.7" stroke="#111" stroke-width="1.5"/>
<line x1="96.5" y1="1412.8" x2="102.5" y2="1412.8" stroke="#111" stroke-width="1.5"/>
<line x1="658.2" y1="1412.8" x2="664.2" y2="1412.8" stroke="#111" stroke-width="1.5"/>
<line x1="96.5" y1="1364.9" x2="102.5" y2="1364.9" stroke="#111" stroke-width="1.5"/>
<line x1="658.2" y1="1364.9" x2="664.2" y2="1364.9" stroke="#111" stroke-width="1.5"/>
<line x1="96.5" y1="1317.0" x2="102.5" y2="1317.0" stroke="#111" stroke-width="1.5"/>
<line x1="658.2" y1="1317.0" x2="664.2" y2="1317.0" stroke="#111" stroke-width="1.5"/>
<line x1="96.5" y1="1269.1" x2="102.5" y2="1269.1" stroke="#111" stroke-width="1.5"/>
<line x1="658.2" y1="1269.1" x2="664.2" y2="1269.1" stroke="#111" stroke-width="1.5"/>
<clipPath id="cp4"><rect x="94.0" y="1231.0" width="572.7" height="268.0"/></clipPath>
<g clip-path="url(#cp4)" fill="none" stroke-width="2.9" stroke-linejoin="round" stroke-linecap="round">
<polyline id="c4blue" stroke="#0072bd" points="96.5,1364.9 269.2,1364.9 269.6,1365.7 270.1,1368.8 270.6,1365.6 271.5,1365.6 272.0,1368.5 273.4,1368.5 273.9,1365.4 274.4,1364.5 274.9,1365.3 277.7,1365.3 279.5,1348.1 281.9,1359.8 284.2,1347.0 285.7,1353.1 285.7,1364.9 356.7,1364.9 356.7,1354.2 358.1,1365.4 360.8,1365.2 361.0,1365.5 362.4,1365.5 362.8,1365.7 365.0,1350.6 367.1,1365.6 367.6,1365.6 367.9,1365.3 369.0,1365.3 369.5,1365.6 370.9,1365.6 371.4,1365.3 372.3,1365.3 372.8,1365.5 373.3,1364.4 374.9,1355.3 377.7,1336.6 384.1,1364.1 384.6,1365.2 386.0,1365.2 386.0,1365.4 389.3,1365.5 389.5,1365.6 391.2,1365.6 391.7,1363.8 394.2,1357.6 397.7,1358.8 401.6,1352.9 401.6,1364.9 408.3,1364.9 408.7,1365.3 409.2,1365.3 409.4,1365.6 410.6,1365.6 411.1,1365.5 413.5,1365.5 413.9,1364.9 415.8,1364.9 416.3,1365.4 417.3,1365.4 417.7,1365.2 420.6,1365.2 420.6,1365.4 421.5,1365.4 422.0,1365.6 422.5,1364.4 424.6,1350.6 427.7,1357.8 427.7,1364.9 499.1,1364.9 499.3,1365.4 499.6,1364.9 522.3,1364.9 522.3,1365.6 524.6,1365.5 524.9,1365.4 528.0,1365.5 528.4,1365.2 529.4,1365.2 529.8,1365.6 534.6,1365.4 535.0,1367.8 536.5,1367.8 536.5,1368.1 537.9,1368.1 538.4,1368.9 539.6,1368.9 539.8,1365.3 541.2,1365.3 541.7,1365.5 544.5,1365.5 545.0,1365.4 545.9,1365.4 546.4,1367.9 547.3,1367.9 547.8,1365.3 552.2,1365.4 552.6,1365.5 554.0,1365.5 554.4,1365.2 559.2,1365.3 559.6,1365.4 562.5,1365.5 563.0,1368.4 563.9,1368.4 564.4,1365.5 569.6,1365.5 570.1,1361.9 570.9,1353.2 571.9,1363.3 572.4,1365.4 575.3,1365.4 575.6,1368.5 576.7,1368.5 577.2,1365.5 578.6,1365.5 578.6,1365.4 581.9,1365.5 583.3,1365.4 583.8,1365.6 585.2,1365.6 585.7,1365.2 588.5,1365.3 589.0,1368.1 590.4,1368.1 590.9,1365.2 591.8,1365.2 592.3,1368.8 593.7,1368.8 594.2,1365.5 598.9,1365.6 598.9,1365.3 600.3,1365.3 600.8,1365.6 602.0,1365.6 602.2,1365.2 603.6,1365.2 604.1,1365.6 605.5,1365.6 605.9,1365.2 607.0,1365.2 607.4,1365.6 608.8,1365.6 609.3,1365.4 610.7,1365.4 612.2,1365.4 612.6,1365.6 613.6,1365.6 614.1,1365.3 615.5,1365.3 615.9,1365.5 616.9,1365.5 616.9,1351.2 619.9,1349.4 623.0,1356.4 626.0,1357.5 628.8,1349.4 632.3,1356.4 634.7,1347.0 637.0,1323.7 640.0,1333.0 640.5,1333.7 640.5,1311.7 643.3,1315.7 646.3,1321.5 646.5,1321.5 646.5,1364.9 664.2,1364.9" transform="translate(0,-0.25)"/>
<use href="#c4blue" transform="translate(0,0.5)"/>
<polyline id="c4red" stroke="#ff0000" points="96.5,1306.3 99.3,1308.6 102.1,1340.2 104.7,1306.3 107.5,1326.2 109.9,1322.7 112.2,1326.2 114.5,1326.2 116.9,1348.4 120.8,1306.3 123.9,1336.7 126.9,1326.2 129.7,1342.5 133.2,1336.7 136.7,1329.7 141.4,1317.5 146.1,1322.7 151.2,1312.2 155.4,1311.0 157.8,1307.5 162.4,1318.0 166.6,1336.7 170.6,1323.8 174.1,1316.8 177.6,1339.0 182.3,1357.7 185.8,1358.9 189.3,1332.0 190.9,1339.0 194.0,1332.0 197.5,1327.3 202.1,1321.5 209.2,1302.8 213.8,1316.8 217.3,1314.5 221.3,1307.5 224.3,1318.0 229.7,1302.8 233.0,1329.7 235.3,1344.9 238.4,1333.1 238.4,1352.2 241.2,1346.5 244.0,1355.8 246.4,1332.5 249.2,1353.5 252.2,1322.0 254.5,1341.8 256.9,1313.8 259.2,1329.0 261.1,1302.1 262.1,1309.2 262.1,1328.4 263.9,1341.1 266.2,1362.1 267.9,1341.1 270.9,1386.7 274.4,1364.9 274.9,1366.6 276.7,1375.0 277.7,1365.8 278.2,1364.9 285.7,1364.9 285.7,1314.8 286.5,1318.0 288.4,1305.1 291.2,1305.1 293.6,1321.5 296.6,1316.8 300.1,1326.2 303.6,1305.1 305.9,1322.7 308.3,1306.3 311.3,1329.7 313.6,1294.6 316.4,1289.5 319.3,1313.5 322.3,1322.7 325.8,1318.0 328.1,1326.2 330.9,1289.5 334.0,1329.7 337.0,1297.0 338.6,1332.0 340.3,1295.8 343.3,1342.5 345.7,1327.3 348.0,1346.0 350.3,1329.7 352.7,1336.7 355.5,1301.6 356.7,1311.1 356.7,1364.9 358.0,1364.9 358.1,1365.0 360.8,1379.8 362.8,1365.9 363.3,1364.9 366.6,1364.9 367.1,1365.2 367.9,1370.4 371.4,1375.1 373.3,1364.9 384.1,1364.9 384.6,1366.3 386.0,1372.8 389.5,1369.3 391.2,1365.0 391.7,1364.9 401.6,1364.9 401.6,1352.9 402.4,1351.8 406.6,1336.6 409.4,1375.1 412.2,1370.4 415.2,1359.9 418.7,1379.8 421.5,1370.4 422.5,1364.9 427.7,1364.9 427.7,1343.4 428.1,1344.4 431.6,1346.7 435.6,1342.1 439.8,1346.7 443.3,1354.9 446.8,1338.6 449.6,1344.4 451.4,1323.4 455.6,1356.1 460.3,1331.5 463.1,1342.1 465.9,1363.1 469.0,1344.4 471.3,1354.9 472.9,1338.6 476.7,1356.1 480.6,1331.6 484.1,1349.1 487.7,1343.2 490.7,1358.4 493.0,1331.5 497.0,1353.7 499.3,1365.4 502.8,1346.7 505.2,1335.1 508.0,1351.4 511.0,1337.4 514.5,1349.1 517.3,1346.7 519.7,1333.9 522.0,1351.4 522.3,1351.9 522.3,1404.5 524.9,1408.8 528.4,1391.2 533.0,1390.1 536.5,1406.4 539.6,1391.2 542.4,1384.2 545.9,1410.9 545.9,1415.7 546.6,1420.6 548.9,1392.5 552.2,1408.9 556.4,1411.2 560.6,1401.9 563.4,1408.9 566.9,1418.2 569.6,1389.9 569.6,1366.9 570.1,1364.9 571.9,1364.9 572.4,1367.8 573.2,1375.4 575.6,1371.9 578.6,1380.1 583.3,1395.2 586.8,1375.4 591.4,1375.4 594.9,1392.9 598.9,1384.7 602.0,1392.9 605.9,1402.2 609.7,1384.7 612.9,1390.6 616.0,1392.9 616.9,1392.4 616.9,1364.9 646.5,1364.9 646.5,1321.5 649.9,1321.5 653.4,1327.3 656.9,1313.3 658.7,1326.2 661.5,1315.7 664.2,1326.8" transform="translate(0,-0.25)"/>
<use href="#c4red" transform="translate(0,0.5)"/>
<polyline id="c4load" stroke="#000000" points="96.5,1355.3 238.4,1355.3 238.4,1336.2 262.1,1336.2 262.1,1317.0 285.7,1317.0 285.7,1355.3 356.7,1355.3 356.7,1312.2 427.7,1312.2 427.7,1326.6 522.3,1326.6 522.3,1273.9 545.9,1273.9 545.9,1269.1 569.6,1269.1 569.6,1292.1 616.9,1292.1 616.9,1333.3 640.5,1333.3 640.5,1355.3 664.2,1355.3" transform="translate(0,-0.25)"/>
<use href="#c4load" transform="translate(0,0.5)"/>
<polyline id="c4green" stroke="#00ff00" points="96.5,1296.7 99.3,1299.1 102.1,1330.6 104.7,1296.7 107.5,1316.6 109.9,1313.1 112.2,1316.6 114.5,1316.6 116.9,1338.8 120.8,1296.7 123.9,1327.1 126.9,1316.6 129.7,1332.9 133.2,1327.1 136.7,1320.1 141.4,1307.9 146.1,1313.1 151.2,1302.6 155.4,1301.4 157.8,1297.9 162.4,1308.4 166.6,1327.1 170.6,1314.3 174.1,1307.2 177.6,1329.4 182.3,1348.1 185.8,1349.3 189.3,1322.4 190.9,1329.4 194.0,1322.4 197.5,1317.8 202.1,1311.9 209.2,1293.2 213.8,1307.2 217.3,1304.9 221.3,1297.9 224.3,1308.4 229.7,1293.2 233.0,1320.1 235.3,1335.3 238.4,1323.6 241.2,1317.8 244.0,1327.1 246.4,1303.7 249.2,1324.8 252.2,1293.2 254.5,1313.1 256.9,1285.1 259.2,1300.2 261.1,1273.4 263.9,1293.2 266.2,1314.2 267.9,1293.2 270.9,1338.8 274.4,1316.6 276.7,1327.1 279.5,1300.2 281.9,1311.9 284.2,1299.1 286.5,1308.4 288.4,1295.6 291.2,1295.6 293.6,1311.9 296.6,1307.2 300.1,1316.6 303.6,1295.6 305.9,1313.1 308.3,1296.7 311.3,1320.1 313.6,1285.0 316.4,1279.9 319.3,1304.0 322.3,1313.1 325.8,1308.4 328.1,1316.6 330.9,1279.9 334.0,1320.1 337.0,1287.4 338.6,1322.4 340.3,1286.2 343.3,1332.9 345.7,1317.8 348.0,1336.4 350.3,1320.1 352.7,1327.1 355.5,1292.1 358.0,1311.9 360.8,1327.1 365.0,1297.9 367.9,1317.8 371.4,1322.4 374.9,1302.6 377.7,1283.9 383.2,1307.2 386.0,1320.1 389.5,1316.6 394.2,1304.9 397.7,1306.1 402.4,1299.1 406.6,1283.9 409.4,1322.4 412.2,1317.8 415.2,1307.2 418.7,1327.1 421.5,1317.8 424.6,1297.9 428.1,1306.1 431.6,1308.4 435.6,1303.7 439.8,1308.4 443.3,1316.6 446.8,1300.2 449.6,1306.1 451.4,1285.1 455.6,1317.8 460.3,1293.2 463.1,1303.7 465.9,1324.8 469.0,1306.1 471.3,1316.6 472.9,1300.2 476.7,1317.8 480.6,1293.2 484.1,1310.7 487.7,1304.9 490.7,1320.1 493.0,1293.2 497.0,1315.4 499.3,1327.1 502.8,1308.4 505.2,1296.7 508.0,1313.1 511.0,1299.1 514.5,1310.7 517.3,1308.4 519.7,1295.6 522.0,1313.1 524.9,1317.8 528.4,1300.2 533.0,1299.1 536.5,1315.4 539.6,1300.2 542.4,1293.2 546.6,1324.8 548.9,1296.7 552.2,1313.1 556.4,1315.4 560.6,1306.1 563.4,1313.1 566.9,1322.4 570.9,1280.4 573.2,1302.6 575.6,1299.1 578.6,1307.2 583.3,1322.4 586.8,1302.6 591.4,1302.6 594.9,1320.1 598.9,1311.9 602.0,1320.1 605.9,1329.4 609.7,1311.9 612.9,1317.8 616.0,1320.1 619.9,1317.8 623.0,1324.8 626.0,1325.9 628.8,1317.8 632.3,1324.8 634.7,1315.4 637.0,1292.1 640.0,1301.4 643.3,1306.1 646.3,1311.9 649.9,1311.9 653.4,1317.8 656.9,1303.7 658.7,1316.6 661.5,1306.1 664.2,1317.2" transform="translate(0,-0.25)"/>
<use href="#c4green" transform="translate(0,0.5)"/>
</g>
<rect x="96.5" y="1463.2" width="567.7" height="35.7" fill="#fff" stroke="#111" stroke-width="1.4"/>
<g stroke-width="2.6">
<line x1="104.7" y1="1480.7" x2="159.6" y2="1480.7" stroke="#0072bd"/>
<line x1="199.9" y1="1480.7" x2="255.4" y2="1480.7" stroke="#ff0000"/>
<line x1="307.3" y1="1480.7" x2="362.2" y2="1480.7" stroke="#000"/>
<line x1="421.7" y1="1480.7" x2="476.6" y2="1480.7" stroke="#00ff00"/>
</g>
<text class="lp" x="165.8" y="1484.0">P</text>
<text class="ls" x="176.5" y="1492.0" textLength="11.0" lengthAdjust="spacing">sc</text>
<text class="lp" x="262.2" y="1484.0">P</text>
<text class="ls" x="273.3" y="1492.0" textLength="24.3" lengthAdjust="spacing">Batt</text>
<text class="lp" x="368.4" y="1484.0">P</text>
<text class="ls" x="379.5" y="1492.0" textLength="30.0" lengthAdjust="spacing">Load</text>
<text class="lp" x="483.1" y="1484.0">P</text>
<text class="ls" x="494.2" y="1492.0" textLength="13.3" lengthAdjust="spacing">pv</text>
<text class="lp" font-weight="bold" x="509.7" y="1483.5">-</text>
<text class="ls" x="514.7" y="1492.0" textLength="44.8" lengthAdjust="spacing">optimal</text>
<text class="lp" x="559.1" y="1484.0">+P</text>
<text class="ls" x="580.3" y="1492.0" textLength="27.8" lengthAdjust="spacing">wind</text>
<text class="lp" font-weight="bold" x="610.3" y="1483.5">-</text>
<text class="ls" x="614.8" y="1492.0" textLength="41.5" lengthAdjust="spacing">optmal</text>
<text class="tk" text-anchor="middle" transform="translate(119.4,1531.7) scale(1,1.08)">265</text>
<text class="tk" text-anchor="middle" transform="translate(237.6,1531.7) scale(1,1.08)">270</text>
<text class="tk" text-anchor="middle" transform="translate(355.9,1531.7) scale(1,1.08)">275</text>
<text class="tk" text-anchor="middle" transform="translate(474.2,1531.7) scale(1,1.08)">280</text>
<text class="tk" text-anchor="middle" transform="translate(592.4,1531.7) scale(1,1.08)">285</text>
<text class="tk" text-anchor="end" transform="translate(85.6,1469.9) scale(1,1.08)">-1000</text>
<text class="tk" text-anchor="end" transform="translate(85.6,1422.0) scale(1,1.08)">-500</text>
<text class="tk" text-anchor="end" transform="translate(85.6,1374.1) scale(1,1.08)">0</text>
<text class="tk" text-anchor="end" transform="translate(85.6,1326.2) scale(1,1.08)">500</text>
<text class="tk" text-anchor="end" transform="translate(85.6,1278.3) scale(1,1.08)">1000</text>
<text class="al" text-anchor="middle" transform="translate(396.8,1565.0) scale(1,1.035)">Time (hours)</text>
<text class="al" text-anchor="middle" transform="translate(20.0,1361.9) rotate(-90)">Powers (W)</text>
<text class="cp" text-anchor="middle" x="386.2" y="1601.5">(l)</text>
</g>
</svg>
</body></html>
